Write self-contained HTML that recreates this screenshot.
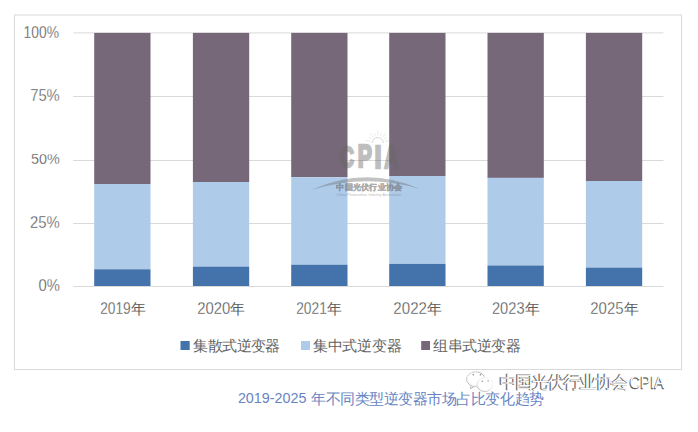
<!DOCTYPE html>
<html><head><meta charset="utf-8"><style>
html,body{margin:0;padding:0;background:#fff;width:698px;height:432px;overflow:hidden}
svg{position:absolute;left:0;top:0;display:block}
text{font-family:"Liberation Sans",sans-serif}
.ax{fill:#4f4f4f;stroke:#fff;stroke-width:0.3px}
.axc{fill:#5c5c5c}
.lg{fill:#636363}
.cap{fill:#6784C2}
.wm{fill:#ffffff}
.wms{fill:#555555}
.lg0{fill:#676767}
</style></head><body>
<svg width="698" height="432" viewBox="0 0 698 432">
<rect x="14.5" y="15" width="667" height="354.5" fill="#fff" stroke="#D9D9D9" stroke-width="1"/>
<rect x="73.2" width="590.2" y="286.00" height="1" fill="#D9D9D9"/><rect x="73.2" width="590.2" y="223.00" height="1" fill="#D9D9D9"/><rect x="73.2" width="590.2" y="160.00" height="1" fill="#D9D9D9"/><rect x="73.2" width="590.2" y="96.00" height="1" fill="#D9D9D9"/><rect x="73.2" width="590.2" y="32.40" height="1" fill="#D9D9D9"/>
<rect x="94.20" y="32.9" width="56.3" height="151.10" fill="#766878"/><rect x="94.20" y="184.00" width="56.3" height="85.30" fill="#AECBEA"/><rect x="94.20" y="269.30" width="56.3" height="16.70" fill="#4473AB"/><rect x="192.90" y="32.9" width="56.3" height="149.10" fill="#766878"/><rect x="192.90" y="182.00" width="56.3" height="84.60" fill="#AECBEA"/><rect x="192.90" y="266.60" width="56.3" height="19.40" fill="#4473AB"/><rect x="291.20" y="32.9" width="56.3" height="144.30" fill="#766878"/><rect x="291.20" y="177.20" width="56.3" height="87.50" fill="#AECBEA"/><rect x="291.20" y="264.70" width="56.3" height="21.30" fill="#4473AB"/><rect x="389.20" y="32.9" width="56.3" height="143.10" fill="#766878"/><rect x="389.20" y="176.00" width="56.3" height="87.90" fill="#AECBEA"/><rect x="389.20" y="263.90" width="56.3" height="22.10" fill="#4473AB"/><rect x="487.50" y="32.9" width="56.3" height="145.00" fill="#766878"/><rect x="487.50" y="177.90" width="56.3" height="87.60" fill="#AECBEA"/><rect x="487.50" y="265.50" width="56.3" height="20.50" fill="#4473AB"/><rect x="585.90" y="32.9" width="56.3" height="148.10" fill="#766878"/><rect x="585.90" y="181.00" width="56.3" height="86.60" fill="#AECBEA"/><rect x="585.90" y="267.60" width="56.3" height="18.40" fill="#4473AB"/>
<text class="ax" font-size="16.056" transform="translate(23.59,37.64) scale(0.8627,1)">100%</text><text class="ax" font-size="15.571" transform="translate(30.16,100.64) scale(0.9499,1)">75%</text><text class="ax" font-size="15.493" transform="translate(30.92,163.75) scale(0.9297,1)">50%</text><text class="ax" font-size="15.634" transform="translate(29.96,227.74) scale(0.9528,1)">25%</text><text class="ax" font-size="16.338" transform="translate(38.41,291.44) scale(0.9069,1)">0%</text><text class="ax" font-size="16.338" transform="translate(100.21,314.34) scale(0.8391,1)">2019</text><text class="axc" font-size="15" letter-spacing="0.000" x="130.75" y="314.25">年</text><text class="ax" font-size="16.338" transform="translate(197.26,314.34) scale(0.9109,1)">2020</text><text class="axc" font-size="15" letter-spacing="0.000" x="230.35" y="314.25">年</text><text class="ax" font-size="16.338" transform="translate(296.21,314.34) scale(0.8430,1)">2021</text><text class="axc" font-size="15" letter-spacing="0.000" x="326.75" y="314.25">年</text><text class="ax" font-size="16.338" transform="translate(393.34,314.34) scale(0.9268,1)">2022</text><text class="axc" font-size="15" letter-spacing="0.000" x="426.85" y="314.25">年</text><text class="ax" font-size="16.338" transform="translate(491.97,314.34) scale(0.8966,1)">2023</text><text class="axc" font-size="15" letter-spacing="0.000" x="525.25" y="314.25">年</text><text class="ax" font-size="16.338" transform="translate(590.25,314.34) scale(0.9167,1)">2025</text><text class="axc" font-size="15" letter-spacing="0.000" x="623.55" y="314.25">年</text><text class="lg" font-size="15" letter-spacing="-0.580" x="193.40" y="350.60">集散式逆变器</text><text class="lg" font-size="15" letter-spacing="-0.300" x="313.10" y="350.60">集中式逆变器</text><text class="lg" font-size="15" letter-spacing="-0.530" x="433.25" y="350.60">组串式逆变器</text><text class="cap" font-size="14.789" transform="translate(237.88,403.35) scale(0.9703,1)">2019-2025</text><text class="cap" font-size="15" letter-spacing="-0.480" x="311.25" y="404.00">年不同类型逆变器市场占比变化趋势</text>
<rect x="180.5" y="341" width="9.2" height="9" fill="#4473AB"/>
<rect x="301" y="341" width="9" height="9" fill="#AECBEA"/>
<rect x="421.2" y="341" width="8.8" height="9" fill="#766878"/>
<g opacity="0.42">
<path d="M311,190 Q366,165 420,189 Q366,173 311,190 Z" fill="#707070"/>
<g stroke="#9a9a9a" stroke-width="0.9" fill="none">
<path d="M372.3,143 A5.5,5.5 0 0 1 383.3,143"/>
</g>
<g stroke="#b0b0b0" stroke-width="0.6" fill="none"><line x1="370.46" y1="141.44" x2="365.57" y2="140.40"/><line x1="371.41" y1="139.08" x2="368.85" y2="137.51"/><line x1="373.08" y1="137.17" x2="369.93" y2="133.29"/><line x1="375.30" y1="135.93" x2="374.30" y2="133.10"/><line x1="377.80" y1="135.50" x2="377.80" y2="130.50"/><line x1="380.30" y1="135.93" x2="381.30" y2="133.10"/><line x1="382.52" y1="137.17" x2="385.67" y2="133.29"/><line x1="384.19" y1="139.08" x2="386.75" y2="137.51"/><line x1="385.14" y1="141.44" x2="390.03" y2="140.40"/></g>
<g stroke="#676767" stroke-width="2.4" stroke-linejoin="miter"><text class="lg0" font-size="30.000" font-weight="bold" transform="translate(339.89,167.10) scale(0.6447,1)">C</text><text class="lg0" font-size="30.870" font-weight="bold" transform="translate(357.73,167.40) scale(0.6910,1)">P</text><text class="lg0" font-size="31.449" font-weight="bold" transform="translate(374.62,167.60) scale(0.8014,1)">I</text><text class="lg0" font-size="31.324" font-weight="bold" transform="translate(384.35,167.71) scale(0.6251,1)">A</text></g>
</g>
<g opacity="0.55" stroke="#676767" stroke-width="0.35"><text class="lg0" font-size="8" font-weight="bold" letter-spacing="0.243" x="336.38" y="190.22">中国光伏行业协会</text></g>
<g opacity="0.45"><text class="lg0" font-size="3.404" transform="translate(336.51,195.59) scale(1.0946,1)">China Photovoltaic Industry Association</text></g>
<g transform="translate(-0.8,0.8)" class="wms" stroke="#6a6a6a" stroke-width="0.6"><text class="wms" font-size="17" letter-spacing="-0.976" x="499.68" y="387.64">中国光伏行业协会</text><text class="wms" font-size="16.901" transform="translate(629.75,387.83) scale(0.8823,1)">CPIA</text></g>
<text class="wm" font-size="17" letter-spacing="-0.976" x="499.68" y="387.64">中国光伏行业协会</text><text class="wm" font-size="16.901" transform="translate(629.75,387.83) scale(0.8823,1)">CPIA</text>
<g fill="none" stroke-width="1">
<g transform="translate(-0.6,0.7)" stroke="#b8b8b8">
<ellipse cx="476.3" cy="378.5" rx="9" ry="7.5"/>
<path d="M471.5,385.5 L471,388 L474,386.5"/>
<ellipse cx="485.2" cy="384.2" rx="7.6" ry="6.5" fill="#fff"/>
</g>
<g stroke="#f4f4f4">
<ellipse cx="476.3" cy="378.5" rx="9" ry="7.5"/>
<ellipse cx="485.2" cy="384.2" rx="7.6" ry="6.5" fill="#fff"/>
</g>
<g fill="#888" stroke="none">
<circle cx="473.3" cy="374.7" r="0.8"/><circle cx="480.4" cy="374.7" r="0.8"/>
<circle cx="482.2" cy="381.2" r="0.7"/><circle cx="488.1" cy="380.9" r="0.7"/>
</g>
</g>
</svg>
</body></html>
